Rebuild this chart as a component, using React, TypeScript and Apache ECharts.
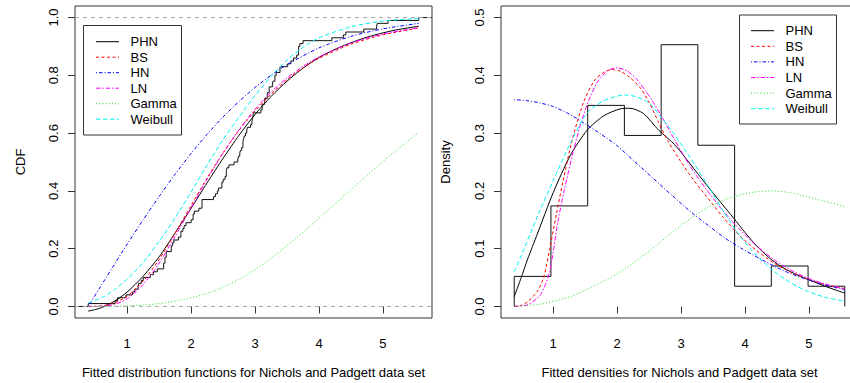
import React, { useEffect, useRef } from "react";
import * as echarts from "echarts";

// Nichols and Padgett breaking stress data (sorted), n = 100
const breakingStress = [
  0.39, 0.81, 0.85, 0.98, 1.08, 1.12, 1.17, 1.18, 1.22, 1.25, 1.36, 1.41, 1.47,
  1.57, 1.57, 1.59, 1.59, 1.61, 1.61, 1.69, 1.69, 1.71, 1.73, 1.8, 1.84, 1.84,
  1.87, 1.89, 1.92, 2.0, 2.03, 2.03, 2.05, 2.12, 2.17, 2.17, 2.17, 2.35, 2.38,
  2.41, 2.43, 2.48, 2.48, 2.5, 2.53, 2.55, 2.55, 2.56, 2.59, 2.67, 2.73, 2.74,
  2.76, 2.77, 2.79, 2.81, 2.81, 2.82, 2.83, 2.85, 2.87, 2.88, 2.93, 2.95, 2.96,
  2.97, 2.97, 3.09, 3.11, 3.11, 3.15, 3.15, 3.19, 3.19, 3.22, 3.22, 3.27, 3.28,
  3.31, 3.31, 3.33, 3.39, 3.39, 3.51, 3.56, 3.6, 3.65, 3.68, 3.68, 3.68, 3.7,
  3.75, 4.2, 4.38, 4.42, 4.7, 4.9, 4.91, 5.08, 5.56,
];

// histogram (density scale)
const histBreaks = [0.39, 0.964, 1.539, 2.113, 2.688, 3.262, 3.837, 4.411, 4.986, 5.56];
const histDensity = [0.052, 0.174, 0.348, 0.296, 0.453, 0.279, 0.035, 0.07, 0.035];

// fitted CDFs (left panel)
const phnCdf = [
  [0.39, -0.016], [0.5, -0.011], [0.6, -0.004], [0.8, 0.018], [1.0, 0.05], [1.25, 0.105],
  [1.5, 0.172], [1.75, 0.255], [2.0, 0.34], [2.25, 0.428], [2.5, 0.513], [2.75, 0.593],
  [3.0, 0.665], [3.25, 0.727], [3.5, 0.78], [3.75, 0.825], [4.0, 0.862], [4.25, 0.89],
  [4.5, 0.913], [4.75, 0.932], [5.0, 0.947], [5.25, 0.959], [5.56, 0.97],
];
const bsCdf = [
  [0.39, 0.0], [0.6, 0.002], [0.8, 0.012], [1.0, 0.036], [1.25, 0.088], [1.5, 0.163],
  [1.75, 0.254], [2.0, 0.35], [2.25, 0.445], [2.5, 0.532], [2.75, 0.61], [3.0, 0.677],
  [3.25, 0.735], [3.5, 0.785], [3.75, 0.826], [4.0, 0.859], [4.5, 0.908], [5.0, 0.94],
  [5.56, 0.964],
];
const hnCdf = [
  [0.39, 0.0], [0.6, 0.075], [0.8, 0.146], [1.0, 0.216], [1.25, 0.3], [1.5, 0.381],
  [1.75, 0.458], [2.0, 0.53], [2.25, 0.596], [2.5, 0.656], [2.75, 0.71], [3.0, 0.758],
  [3.25, 0.8], [3.5, 0.837], [4.0, 0.895], [4.5, 0.935], [5.0, 0.961], [5.56, 0.98],
];
const lnCdf = [
  [0.39, 0.0], [0.6, 0.001], [0.8, 0.007], [1.0, 0.027], [1.25, 0.076], [1.5, 0.15],
  [1.75, 0.243], [2.0, 0.342], [2.25, 0.44], [2.5, 0.531], [2.75, 0.612], [3.0, 0.683],
  [3.25, 0.742], [3.5, 0.791], [3.75, 0.831], [4.0, 0.864], [4.5, 0.912], [5.0, 0.943],
  [5.56, 0.965],
];
const gammaCdf = [
  [0.39, 0.0], [0.8, 0.001], [1.27, 0.005], [1.5, 0.01], [1.79, 0.02], [2.0, 0.03],
  [2.31, 0.05], [2.6, 0.077], [2.88, 0.11], [3.15, 0.15], [3.4, 0.193], [3.66, 0.24],
  [3.92, 0.29], [4.15, 0.335], [4.39, 0.383], [4.7, 0.444], [4.96, 0.494], [5.25, 0.548],
  [5.56, 0.603],
];
const weibullCdf = [
  [0.39, 0.012], [0.6, 0.03], [0.8, 0.058], [1.0, 0.095], [1.25, 0.152], [1.5, 0.225],
  [1.75, 0.307], [2.0, 0.397], [2.25, 0.49], [2.5, 0.578], [2.75, 0.656], [3.0, 0.73],
  [3.25, 0.796], [3.5, 0.853], [3.75, 0.897], [4.0, 0.93], [4.5, 0.968], [5.0, 0.988],
  [5.56, 0.997],
];

// fitted densities (right panel)
const phnPdf = [
  [0.39, 0.017], [0.5, 0.05], [0.6, 0.082], [0.75, 0.125], [1.0, 0.197], [1.27, 0.262],
  [1.53, 0.305], [1.79, 0.33], [2.05, 0.342], [2.2, 0.343], [2.41, 0.334], [2.65, 0.305],
  [2.9, 0.28], [3.14, 0.247], [3.4, 0.21], [3.62, 0.18], [3.82, 0.153], [4.0, 0.128],
  [4.18, 0.105], [4.37, 0.085], [4.55, 0.07], [4.75, 0.058], [4.96, 0.048], [5.25, 0.035],
  [5.56, 0.023],
];
const bsPdf = [
  [0.39, 0.0], [0.5, 0.002], [0.6, 0.008], [0.75, 0.026], [0.85, 0.05], [0.95, 0.102],
  [1.05, 0.16], [1.15, 0.215], [1.3, 0.29], [1.48, 0.355], [1.65, 0.392], [1.8, 0.406],
  [1.92, 0.41], [2.05, 0.407], [2.2, 0.396], [2.35, 0.38], [2.5, 0.353], [2.65, 0.318],
  [2.8, 0.285], [3.0, 0.25], [3.2, 0.218], [3.4, 0.19], [3.66, 0.154], [3.92, 0.122],
  [4.18, 0.097], [4.44, 0.076], [4.7, 0.06], [4.96, 0.048], [5.25, 0.038], [5.56, 0.031],
];
const hnPdf = [
  [0.39, 0.358], [0.6, 0.356], [0.8, 0.352], [1.0, 0.346], [1.25, 0.333], [1.5, 0.316],
  [1.75, 0.298], [2.0, 0.278], [2.25, 0.253], [2.55, 0.223], [2.85, 0.193], [3.17, 0.162],
  [3.45, 0.138], [3.69, 0.118], [3.95, 0.1], [4.21, 0.084], [4.47, 0.069], [4.73, 0.056],
  [4.99, 0.046], [5.25, 0.037], [5.56, 0.029],
];
const lnPdf = [
  [0.39, 0.0], [0.6, 0.003], [0.8, 0.02], [0.94, 0.058], [1.07, 0.145], [1.17, 0.2],
  [1.3, 0.262], [1.43, 0.316], [1.56, 0.358], [1.7, 0.39], [1.85, 0.408], [2.0, 0.413],
  [2.15, 0.408], [2.3, 0.394], [2.45, 0.372], [2.55, 0.356], [2.7, 0.328], [2.88, 0.292],
  [3.14, 0.243], [3.38, 0.205], [3.66, 0.165], [3.92, 0.133], [4.18, 0.105], [4.44, 0.082],
  [4.7, 0.064], [4.96, 0.05], [5.25, 0.039], [5.56, 0.03],
];
const gammaPdf = [
  [0.39, 0.0], [0.8, 0.004], [1.27, 0.017], [1.61, 0.034], [1.9, 0.05], [2.13, 0.066],
  [2.4, 0.087], [2.65, 0.109], [2.88, 0.13], [3.17, 0.154], [3.4, 0.17], [3.69, 0.185],
  [3.92, 0.193], [4.15, 0.198], [4.4, 0.2], [4.7, 0.197], [4.96, 0.19], [5.25, 0.182],
  [5.56, 0.173],
];
const weibullPdf = [
  [0.39, 0.06], [0.5, 0.088], [0.75, 0.155], [1.0, 0.218], [1.27, 0.283], [1.53, 0.335],
  [1.79, 0.356], [2.0, 0.364], [2.13, 0.366], [2.3, 0.363], [2.5, 0.352], [2.65, 0.333],
  [2.88, 0.3], [3.14, 0.258], [3.43, 0.207], [3.66, 0.165], [3.92, 0.122], [4.18, 0.088],
  [4.44, 0.062], [4.7, 0.042], [4.96, 0.027], [5.25, 0.016], [5.56, 0.009],
];

const legendNames = ["PHN", "BS", "HN", "LN", "Gamma", "Weibull"];
const xTicks = [1, 2, 3, 4, 5];
const cdfTicks = [0, 0.2, 0.4, 0.6, 0.8, 1.0];
const densityTicks = [0, 0.1, 0.2, 0.3, 0.4, 0.5];

const X_MIN = 0.1832;
const X_MAX = 5.7668;
const FONT = "'Liberation Sans', Arial, Helvetica, sans-serif";

const STYLES: Record<string, { color: string; dash: any }> = {
  PHN: { color: "#000000", dash: "solid" },
  BS: { color: "#ff0000", dash: [3, 2.5] },
  HN: { color: "#0000ff", dash: [1, 2, 3.5, 2] },
  LN: { color: "#ff00ff", dash: [4.5, 1.8, 1.5, 1.8] },
  Gamma: { color: "#22dd22", dash: [1, 2.2] },
  Weibull: { color: "#00f0f0", dash: [4.5, 2.5] },
};

export default function App() {
  const ref = useRef<HTMLDivElement>(null);
  useEffect(() => {
    if (!ref.current) return;
    const chart = echarts.init(ref.current, undefined, { renderer: "svg" });

    const n = breakingStress.length;
    const ecdf: number[][] = [[X_MIN, 0]];
    breakingStress.forEach((x, i) => ecdf.push([x, (i + 1) / n]));
    ecdf.push([X_MAX, 1]);

    const hist: number[][] = [[histBreaks[0], 0]];
    histDensity.forEach((d, i) => hist.push([histBreaks[i], d]));
    hist.push([histBreaks[histBreaks.length - 1], 0]);

    const curve = (name: string, data: number[][], axis: number) => ({
      type: "line",
      name,
      data,
      xAxisIndex: axis,
      yAxisIndex: axis,
      symbol: "none",
      showSymbol: false,
      smooth: 0.25,
      silent: true,
      lineStyle: { color: STYLES[name].color, width: 1, type: STYLES[name].dash },
    });

    const xAxis = (gridIndex: number) => ({
      type: "value",
      gridIndex,
      min: X_MIN,
      max: X_MAX,
      axisLine: { show: false },
      splitLine: { show: false },
      axisTick: { show: true, length: 7, customValues: xTicks, lineStyle: { color: "#333" } },
      axisLabel: {
        customValues: xTicks,
        fontSize: 13,
        fontFamily: FONT,
        color: "#000",
        margin: 19,
      },
    });
    const yAxis = (gridIndex: number, min: number, max: number, ticks: number[]) => ({
      type: "value",
      gridIndex,
      min,
      max,
      axisLine: { show: false },
      splitLine: { show: false },
      axisTick: { show: true, length: 7, customValues: ticks, lineStyle: { color: "#333" } },
      axisLabel: {
        customValues: ticks,
        rotate: 90,
        fontSize: 13,
        fontFamily: FONT,
        color: "#000",
        margin: 15,
        formatter: (v: number) => v.toFixed(1),
      },
    });

    const legend = (x0: number, y0: number, w: number, h: number, lx: number, ly: number, step: number) => {
      const children: any[] = [
        {
          type: "rect",
          shape: { x: x0, y: y0, width: w, height: h },
          style: { fill: "#fff", stroke: "#333", lineWidth: 1 },
        },
      ];
      legendNames.forEach((name, i) => {
        const y = ly + i * step;
        children.push({
          type: "line",
          shape: { x1: lx, y1: y, x2: lx + 23, y2: y },
          style: {
            stroke: STYLES[name].color,
            lineWidth: 1,
            lineDash: Array.isArray(STYLES[name].dash) ? STYLES[name].dash : null,
          },
        });
        children.push({
          type: "text",
          style: {
            text: name,
            x: lx + 34.5,
            y,
            font: `13px ${FONT}`,
            fill: "#000",
            verticalAlign: "middle",
          },
        });
      });
      return { type: "group", z: 100, children };
    };

    const titleText = (text: string, x: number, y: number, rot = 0) => ({
      type: "text",
      x,
      y,
      rotation: rot,
      z: 100,
      style: {
        text,
        font: `13px ${FONT}`,
        fill: "#000",
        align: "center",
        verticalAlign: "middle",
      },
    });

    chart.setOption({
      animation: false,
      backgroundColor: "#fff",
      grid: [
        { left: 75, top: 6, width: 357, height: 312, show: true, borderColor: "#333", borderWidth: 1, outerBoundsMode: "none", containLabel: false },
        { left: 501, top: 6, width: 357, height: 312, show: true, borderColor: "#333", borderWidth: 1, outerBoundsMode: "none", containLabel: false },
      ],
      xAxis: [xAxis(0), xAxis(1)],
      yAxis: [yAxis(0, -0.04, 1.04, cdfTicks), yAxis(1, -0.02, 0.52, densityTicks)],
      series: [
        {
          type: "line",
          name: "ECDF",
          data: ecdf,
          xAxisIndex: 0,
          yAxisIndex: 0,
          step: "end",
          symbol: "none",
          silent: true,
          lineStyle: { color: "#111", width: 1 },
          markLine: {
            silent: true,
            symbol: ["none", "none"],
            label: { show: false },
            lineStyle: { color: "#aaaaaa", type: [4, 4], width: 1 },
            data: [{ yAxis: 0 }, { yAxis: 1 }],
          },
        },
        curve("PHN", phnCdf, 0),
        curve("BS", bsCdf, 0),
        curve("HN", hnCdf, 0),
        curve("LN", lnCdf, 0),
        curve("Gamma", gammaCdf, 0),
        curve("Weibull", weibullCdf, 0),
        {
          type: "line",
          name: "Histogram",
          data: hist,
          xAxisIndex: 1,
          yAxisIndex: 1,
          step: "end",
          symbol: "none",
          silent: true,
          lineStyle: { color: "#111", width: 1 },
        },
        curve("PHN", phnPdf, 1),
        curve("BS", bsPdf, 1),
        curve("HN", hnPdf, 1),
        curve("LN", lnPdf, 1),
        curve("Gamma", gammaPdf, 1),
        curve("Weibull", weibullPdf, 1),
      ],
      graphic: [
        legend(83.5, 25.5, 98, 109.5, 96, 41.7, 15.5),
        legend(739.5, 15, 97, 109, 751, 30.7, 15.6),
        titleText("CDF", 20, 162, Math.PI / 2),
        titleText("Density", 445.5, 162, Math.PI / 2),
        titleText("Fitted distribution functions for Nichols and Padgett data set", 253.5, 372.5),
        titleText("Fitted densities for Nichols and Padgett data set", 679.5, 372.5),
      ],
    });
    return () => chart.dispose();
  }, []);
  return (
    <div
      style={{ position: "fixed", left: 0, top: 0, width: 850, height: 383, overflow: "hidden", background: "#fff" }}
    >
      <div ref={ref} style={{ width: 850, height: 383 }} />
    </div>
  );
}
